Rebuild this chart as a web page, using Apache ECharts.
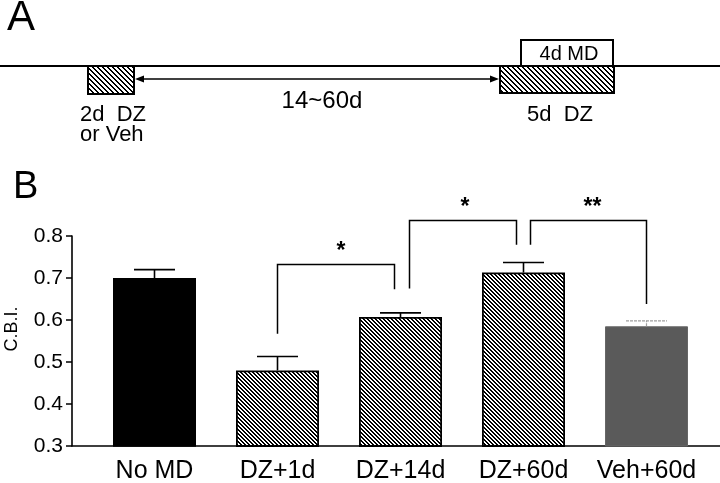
<!DOCTYPE html>
<html><head><meta charset="utf-8">
<script src="https://cdn.jsdelivr.net/npm/echarts@6/dist/echarts.min.js"></script>
<style>html,body{margin:0;padding:0;background:#fff}#c{width:720px;height:483px}</style>
</head><body><div id="c"></div>
<script>
// ---- data ----
const categories = ['No MD', 'DZ+1d', 'DZ+14d', 'DZ+60d', 'Veh+60d'];
const meanCBI = [0.700, 0.480, 0.607, 0.713, 0.585];
const semCBI = [0.020, 0.033, 0.010, 0.024, 0.013];
const yTicks = [0.3, 0.4, 0.5, 0.6, 0.7, 0.8];
const bracketFrom = [1, 2, 3];
const bracketTo = [2, 3, 4];
const bracketTop = [0.732, 0.837, 0.837];
const bracketLeftEnd = [0.567, 0.675, 0.779];
const bracketRightEnd = [0.673, 0.779, 0.638];
const bracketLabel = ['*', '*', '**'];

// ---- styles ----
const FONT = '"Liberation Sans", Arial, Helvetica, sans-serif';
function hatch(period, stripe) {
  const c = document.createElement('canvas');
  c.width = period; c.height = period;
  const g = c.getContext('2d');
  g.fillStyle = '#fff'; g.fillRect(0, 0, period, period);
  g.fillStyle = '#000';
  for (let y = 0; y < period; y++) {
    for (let x = 0; x < period; x++) {
      const d = ((x - y) % period + period) % period;
      if (d < stripe) g.fillRect(x, y, 1, 1);
    }
  }
  return c;
}
const barHatch = hatch(4, 2);
const boxHatch = hatch(5, 2);
const fillKind = ['solid', 'hatch', 'hatch', 'hatch', 'grey'];
function barStyle(kind) {
  if (kind === 'solid') return { color: '#000', borderColor: '#000', borderWidth: 1.5 };
  if (kind === 'grey') return { color: '#5a5a5a', borderColor: '#666', borderWidth: 1 };
  return { color: { image: barHatch, repeat: 'repeat' }, borderColor: '#000', borderWidth: 1.8 };
}
const legOffL = [0, 9, 7];
const legOffR = [-6, -7, 0];
const starShift = [5, 2, 4];

const chart = echarts.init(document.getElementById('c'), null, { renderer: 'canvas' });
const option = {
  animation: false,
  backgroundColor: '#fff',
  textStyle: { fontFamily: FONT, color: '#000' },
  grid: [
    { left: 93, right: 12, top: 236, bottom: 37, outerBoundsMode: 'none' },
    { left: 72, right: 0, top: 236, bottom: 37, outerBoundsMode: 'none' }
  ],
  xAxis: [
    { type: 'category', gridIndex: 0, data: categories,
      axisLine: { show: false }, axisTick: { show: false },
      axisLabel: { color: '#000', fontSize: 25, margin: 13, fontFamily: FONT, interval: 0, hideOverlap: false } },
    { type: 'value', gridIndex: 1, min: 0, max: 1,
      axisLine: { show: true, lineStyle: { color: '#000', width: 1.6 } },
      axisTick: { show: false }, axisLabel: { show: false }, splitLine: { show: false } }
  ],
  yAxis: [
    { type: 'value', gridIndex: 0, min: yTicks[0], max: yTicks[yTicks.length - 1], interval: 0.1,
      offset: 21,
      axisLine: { show: true, lineStyle: { color: '#000', width: 1.6 } },
      axisTick: { show: true, inside: false, length: 6, lineStyle: { color: '#000', width: 1.5 } },
      axisLabel: { color: '#000', fontSize: 21, margin: 9, fontFamily: FONT,
        formatter: v => v.toFixed(1) },
      splitLine: { show: false } },
    { type: 'value', gridIndex: 1, show: false }
  ],
  series: [
    { type: 'bar', xAxisIndex: 0, yAxisIndex: 0, barWidth: 83, z: 2,
      data: meanCBI.map((v, i) => ({ value: v, itemStyle: barStyle(fillKind[i]) })) },
    { type: 'custom', xAxisIndex: 0, yAxisIndex: 0, z: 3, clip: false,
      encode: { x: 0, y: [1, 2] },
      data: meanCBI.map((m, i) => [i, m, m + semCBI[i]]),
      renderItem: (p, api) => {
        const b = api.coord([api.value(0), api.value(1)]);
        const t = api.coord([api.value(0), api.value(2)]);
        const grey = fillKind[p.dataIndex] === 'grey';
        const st = { stroke: grey ? '#a0a0a0' : '#000', lineWidth: grey ? 1.2 : 1.6, lineDash: grey ? [3, 1] : null, fill: null };
        const hw = 20.5;
        return { type: 'group', children: [
          { type: 'line', shape: { x1: b[0], y1: b[1], x2: t[0], y2: t[1] }, style: st },
          { type: 'line', shape: { x1: t[0] - hw, y1: t[1], x2: t[0] + hw, y2: t[1] }, style: st }
        ] };
      } },
    { type: 'custom', xAxisIndex: 0, yAxisIndex: 0, z: 3, clip: false,
      encode: { x: [0, 1], y: [2, 3, 4] },
      data: bracketFrom.map((f, i) => [f, bracketTo[i], bracketTop[i], bracketLeftEnd[i], bracketRightEnd[i]]),
      renderItem: (p, api) => {
        const i = p.dataIndex;
        const xL = api.coord([api.value(0), 0.5])[0] + legOffL[i];
        const xR = api.coord([api.value(1), 0.5])[0] + legOffR[i];
        const yT = api.coord([0, api.value(2)])[1];
        const yL = api.coord([0, api.value(3)])[1];
        const yR = api.coord([0, api.value(4)])[1];
        return { type: 'group', children: [
          { type: 'polyline', shape: { points: [[xL, yL], [xL, yT], [xR, yT], [xR, yR]] },
            style: { stroke: '#000', lineWidth: 1.5, fill: null } },
          { type: 'text', style: { text: bracketLabel[i], x: (xL + xR) / 2 + starShift[i], y: yT - 13,
            align: 'center', verticalAlign: 'middle', fill: '#000',
            font: 'bold 23px ' + FONT } }
        ] };
      } }
  ],
  graphic: [
    { type: 'text', style: { text: 'A', x: 7, y: 18, verticalAlign: 'middle', font: '42px ' + FONT, fill: '#000' } },
    { type: 'text', style: { text: 'B', x: 13, y: 188, verticalAlign: 'middle', font: '38px ' + FONT, fill: '#000' } },
    { type: 'text', x: 12, y: 329, rotation: Math.PI / 2,
      style: { text: 'C.B.I.', align: 'center', verticalAlign: 'middle', font: '18px ' + FONT, fill: '#000' } },
    { type: 'line', shape: { x1: 0, y1: 66, x2: 720, y2: 66 }, style: { stroke: '#000', lineWidth: 2 } },
    { type: 'rect', shape: { x: 88, y: 66, width: 46, height: 28 }, style: { fill: { image: boxHatch, repeat: 'repeat' }, stroke: '#000', lineWidth: 2 } },
    { type: 'rect', shape: { x: 500, y: 66, width: 114, height: 27 }, style: { fill: { image: boxHatch, repeat: 'repeat' }, stroke: '#000', lineWidth: 2 } },
    { type: 'rect', shape: { x: 521, y: 40, width: 92, height: 26 }, style: { fill: '#fff', stroke: '#000', lineWidth: 2 } },
    { type: 'line', shape: { x1: 140, y1: 79, x2: 494, y2: 79 }, style: { stroke: '#000', lineWidth: 1.3 } },
    { type: 'polygon', shape: { points: [[135, 79], [144, 75.5], [144, 82.5]] }, style: { fill: '#000' } },
    { type: 'polygon', shape: { points: [[499, 79], [490, 75.5], [490, 82.5]] }, style: { fill: '#000' } },
    { type: 'text', style: { text: '4d MD', x: 569, y: 54, align: 'center', verticalAlign: 'middle', font: '20px ' + FONT, fill: '#000' } },
    { type: 'text', style: { text: '5d  DZ', x: 527, y: 115, verticalAlign: 'middle', font: '22px ' + FONT, fill: '#000' } },
    { type: 'text', style: { text: '2d  DZ', x: 80, y: 115, verticalAlign: 'middle', font: '22px ' + FONT, fill: '#000' } },
    { type: 'text', style: { text: 'or Veh', x: 80, y: 135, verticalAlign: 'middle', font: '22px ' + FONT, fill: '#000' } },
    { type: 'text', style: { text: '14~60d', x: 322, y: 101, align: 'center', verticalAlign: 'middle', font: '24px ' + FONT, fill: '#000' } }
  ]
};
chart.setOption(option);
</script>
</body></html>
